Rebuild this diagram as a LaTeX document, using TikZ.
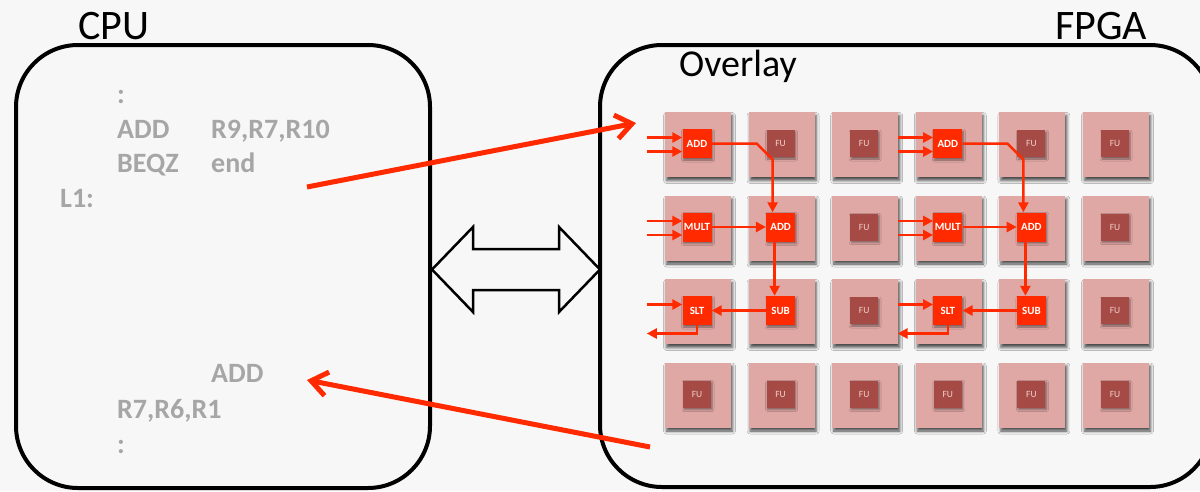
\documentclass[tikz,border=0pt]{standalone}
\usepackage{fontspec}
\setmainfont{Carlito}
\usetikzlibrary{arrows.meta,calc,shadows.blur}

\definecolor{bg}{HTML}{F7F7F7}
\definecolor{tilepink}{HTML}{E0A8A5}
\definecolor{fudark}{HTML}{A54A44}
\definecolor{futext}{HTML}{F2CFCB}
\definecolor{hot}{HTML}{FF2A00}
\definecolor{codegray}{HTML}{A6A6A6}

\begin{document}
\begin{tikzpicture}[x=1pt,y=-1pt,
  frame/.style={draw=black, line width=4pt, rounded corners=62pt},
  tile/.style={fill=tilepink, minimum width=66pt, minimum height=65pt, inner sep=0pt,
    blur shadow={shadow xshift=1.5pt, shadow yshift=-3.5pt, shadow blur radius=3pt, shadow opacity=70}},
  fu/.style={fill=fudark, text=futext, minimum width=28pt, minimum height=27pt, inner sep=0pt,
    font=\fontsize{9.5}{9.5}\selectfont,
    blur shadow={shadow xshift=1pt, shadow yshift=-2pt, shadow blur radius=2pt, shadow opacity=45}},
  op/.style={fill=hot, text=white, minimum size=29pt, inner sep=0pt,
    font=\bfseries\fontsize{11}{11}\selectfont,
    blur shadow={shadow xshift=1pt, shadow yshift=-2pt, shadow blur radius=2pt, shadow opacity=45}},
  flow/.style={draw=hot, line width=2.5pt, -{Triangle[length=10pt,width=10pt]}},
  bigflow/.style={draw=hot, line width=5pt, -{Straight Barb[length=16pt,width=24pt]}},
  code/.style={anchor=base west, text=codegray, font=\bfseries\fontsize{28}{28}\selectfont, inner sep=0pt},
  title/.style={anchor=base west, font=\fontsize{42}{42}\selectfont, inner sep=0pt}
]
\fill[bg] (0,0) rectangle (1200,491);
\clip (0,0) rectangle (1200,491);

% titles
\node[title] (cputitle) at (78,39) {CPU};
\node[title] (fpgatitle) at (1055,39) {FPGA};
\node[title, font=\fontsize{38}{38}\selectfont] (overlay) at (679,76) {Overlay};

% processor and fabric outlines
\draw[frame] (16,45) rectangle (430,488);
\draw[frame] (600,45) rectangle (1212,487);

% program listing
\node[code] (c1) at (117,103) {:};
\node[code] (c2) at (117,138) {ADD};
\node[code] (c2b) at (211,138) {R9,R7,R10};
\node[code] (c3) at (117,172) {BEQZ};
\node[code] (c3b) at (211,172) {end};
\node[code] (c4) at (60,207) {L1:};
\node[code] (c5) at (211,382) {ADD};
\node[code] (c6) at (117,418) {R7,R6,R1};
\node[code] (c7) at (117,453) {:};

% interface arrow between CPU and FPGA
\draw[line width=2.5pt, fill=bg, line join=miter]
  (432,269.5) -- (473,227) -- (473,249) -- (559,249) -- (559,227) -- (600,269.5)
  -- (559,312) -- (559,290) -- (473,290) -- (473,312) -- cycle;

% overlay tiles
\foreach \c in {1,...,6}
  \foreach \r in {1,...,4}
    \node[tile] (t\c\r) at ({698+(\c-1)*83.6},{144.5+(\r-1)*83.5}) {};

% idle functional units
\foreach \c/\r in {2/1,3/1,5/1,6/1,3/2,6/2,3/3,6/3,1/4,2/4,3/4,4/4,5/4,6/4}
  \node[fu] (f\c\r) at ($(t\c\r.center)+(-1,-1)$) {FU};

% two copies of the mapped dataflow
\foreach \g/\k in {0/a,3/b}{
  \pgfmathtruncatemacro{\ca}{1+\g}
  \pgfmathtruncatemacro{\cb}{2+\g}
  \node[op] (addi\k) at ($(t\ca1.center)+(-1,-1)$) {ADD};
  \node[op] (mult\k) at ($(t\ca2.center)+(-1,-1)$) {MULT};
  \node[op] (addii\k) at ($(t\cb2.center)+(-1,-1)$) {ADD};
  \node[op] (sub\k) at ($(t\cb3.center)+(-1,-1)$) {SUB};
  \node[op] (slt\k) at ($(t\ca3.center)+(-1,-1)$) {SLT};

  \coordinate (ina\k) at ($(t\ca1.west)+(-18,-7)$);
  \coordinate (inb\k) at ($(t\ca1.west)+(-18,7)$);
  \coordinate (inc\k) at ($(t\ca2.west)+(-18,-7)$);
  \coordinate (ind\k) at ($(t\ca2.west)+(-18,7)$);
  \coordinate (ine\k) at ($(t\ca3.west)+(-18,-7)$);
  \coordinate (out\k) at ($(t\ca3.west)+(-18,22)$);

  \draw[flow] (ina\k) -- (ina\k -| addi\k.west);
  \draw[flow] (inb\k) -- (inb\k -| addi\k.west);
  \draw[flow] (inc\k) -- (inc\k -| mult\k.west);
  \draw[flow] (ind\k) -- (ind\k -| mult\k.west);
  \draw[flow] (ine\k) -- (ine\k -| slt\k.west);

  \draw[flow] (addi\k.east) -- ($(addi\k.east -| addii\k.north)+(-24,0)$)
    -- ($(addi\k.east -| addii\k.north)+(-8,16)$) -- ($(addii\k.north)+(-8,0)$);
  \draw[flow] (mult\k.east) -- (addii\k.west);
  \draw[flow] ($(addii\k.south)+(-6,0)$) -- ($(sub\k.north)+(-6,0)$);
  \draw[flow] (sub\k.west) -- (slt\k.east);
  \draw[flow] (slt\k.south) |- (out\k);
}

% offload and return
\coordinate (reqfrom) at (307,187);
\coordinate (reqto) at (636,123);
\coordinate (resfrom) at (650,447);
\coordinate (resto) at (307,380);
\draw[bigflow] (reqfrom) -- (reqto);
\draw[bigflow] (resfrom) -- (resto);
\end{tikzpicture}
\end{document}
